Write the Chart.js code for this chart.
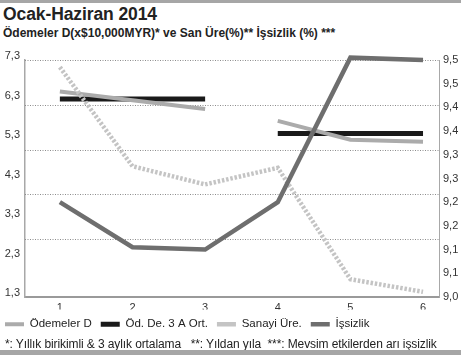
<!DOCTYPE html>
<html><head><meta charset="utf-8">
<script src="https://cdn.jsdelivr.net/npm/chart.js@4"></script>
<style>
html,body{margin:0;padding:0;background:#fff;}
body{width:461px;height:355px;position:relative;overflow:hidden;font-family:"Liberation Sans",Arial,sans-serif;color:#222;}
#topbar{position:absolute;left:0;top:0;width:461px;height:3px;background:#a6a6a6;}
#title{position:absolute;left:3px;top:4px;font-size:17.5px;font-weight:bold;color:#222;letter-spacing:-0.1px;white-space:nowrap;}
#subtitle{position:absolute;left:3px;top:26px;font-size:12px;font-weight:bold;color:#222;white-space:nowrap;}
#wrap{position:absolute;left:0;top:42px;width:461px;height:298px;}
#foot{position:absolute;left:5px;top:337px;font-size:12px;color:#222;white-space:pre;letter-spacing:-0.1px;}
#botbar{position:absolute;left:0;top:350px;width:461px;height:5px;background:#a6a6a6;}
</style></head>
<body>
<div id="topbar"></div>
<div id="title">Ocak-Haziran 2014</div>
<div id="subtitle">Ödemeler D(x$10,000MYR)* ve San Üre(%)** İşsizlik (%) ***</div>
<div id="wrap"><canvas id="c" width="461" height="298"></canvas></div>
<div id="foot">*: Yıllık birikimli &amp; 3 aylık ortalama   **: Yıldan yıla  ***: Mevsim etkilerden arı işsizlik</div>
<div id="botbar"></div>
<script>
const categories = ['1','2','3','4','5','6'];
const odemelerD = [6.50, 6.28, 6.06, 5.76, 5.28, 5.23];
const odDe3AOrt = [6.31, 6.31, 6.31, 5.44, 5.44, 5.44];
const sanayiUre = [7.12, 4.61, 4.15, 4.57, 1.75, 1.43];
const issizlik = [9.20, 9.105, 9.10, 9.20, 9.505, 9.50];
const leftTickValues = [7.3, 6.3, 5.3, 4.3, 3.3, 2.3, 1.3];
const leftTickLabels = ['7,3','6,3','5,3','4,3','3,3','2,3','1,3'];
const rightTickValues = [9.5, 9.45, 9.4, 9.35, 9.3, 9.25, 9.2, 9.15, 9.1, 9.05, 9.0];
const rightTickLabels = ['9,5','9,5','9,4','9,4','9,3','9,3','9,2','9,2','9,1','9,1','9,0'];
const seriesNames = ['Ödemeler D','Öd. De. 3 A Ort.','Sanayi Üre.','İşsizlik'];

const pts = arr => arr.map((v,i)=>({x: i+1, y: v}));
const gapAfter3 = ctx => ctx.p0DataIndex === 2 ? 'rgba(0,0,0,0)' : undefined;

const tickFont = {family: '"Liberation Sans", Arial, sans-serif', size: 11};

new Chart(document.getElementById('c'), {
  type: 'line',
  data: {
    datasets: [
      {label: seriesNames[0], data: pts(odemelerD), yAxisID: 'yL', borderColor: '#ababab', backgroundColor: '#ababab',
       borderWidth: 4, pointRadius: 0, pointStyle: 'line', order: 3, segment: {borderColor: gapAfter3}},
      {label: seriesNames[1], data: pts(odDe3AOrt), yAxisID: 'yL', borderColor: '#1a1a1a', backgroundColor: '#1a1a1a',
       borderWidth: 5, pointRadius: 0, pointStyle: 'line', order: 4, segment: {borderColor: gapAfter3}},
      {label: seriesNames[2], data: pts(sanayiUre), yAxisID: 'yL', borderColor: '#c4c4c4', backgroundColor: '#c4c4c4',
       borderWidth: 4.5, borderDash: [2.5, 1.8], pointRadius: 0, pointStyle: 'line', order: 2},
      {label: seriesNames[3], data: pts(issizlik), yAxisID: 'yR', borderColor: '#6e6e6e', backgroundColor: '#6e6e6e',
       borderWidth: 4.5, pointRadius: 0, pointStyle: 'line', order: 1}
    ]
  },
  options: {
    responsive: false,
    animation: false,
    clip: false,
    layout: {padding: {top: 18, left: 0, right: 0, bottom: 0}},
    elements: {line: {tension: 0, borderCapStyle: 'butt', borderJoinStyle: 'miter'}},
    plugins: {
      tooltip: {enabled: false},
      legend: {
        position: 'bottom', align: 'start',
        labels: {
          usePointStyle: true, pointStyleWidth: 19, boxHeight: 12,
          sort: (a, b) => a.datasetIndex - b.datasetIndex,
          font: {family: '"Liberation Sans", Arial, sans-serif', size: 11.5},
          color: '#222', padding: 9
        }
      }
    },
    scales: {
      x: {
        type: 'linear', min: 0.52, max: 6.22,
        afterBuildTicks: s => { s.ticks = categories.map((c,i)=>({value: i+1})); },
        ticks: {callback: (v,i) => categories[i], font: tickFont, color: '#333', padding: 4, maxRotation: 0, autoSkip: false},
        grid: {display: false, drawTicks: false},
        border: {color: '#9a9a9a', width: 2},
        afterFit: s => { s.height = 12.5; }
      },
      yL: {
        position: 'left', min: 1.3, max: 7.3,
        afterBuildTicks: s => { s.ticks = leftTickValues.map(v=>({value: v})); },
        ticks: {callback: (v,i) => leftTickLabels[i], font: tickFont, color: '#333', padding: 5, labelOffset: -4, autoSkip: false},
        grid: {display: false, drawTicks: false},
        border: {color: '#a8a8a8', width: 1.5},
        afterFit: s => { s.width = 25; }
      },
      yR: {
        position: 'right', min: 9.0, max: 9.5,
        afterBuildTicks: s => { s.ticks = rightTickValues.map(v=>({value: v})); },
        ticks: {callback: (v,i) => rightTickLabels[i], font: tickFont, color: '#333', padding: 4, autoSkip: false},
        grid: {display: false, drawTicks: false},
        border: {color: '#a8a8a8', width: 1},
        afterFit: s => { s.width = 22; }
      },
      yG: {
        position: 'right', min: 0, max: 238/45, reverse: true,
        afterBuildTicks: s => { s.ticks = [0,1,2,3,4].map(v=>({value: v})); },
        ticks: {display: false},
        grid: {display: false, drawTicks: false},
        border: {display: false},
        afterFit: s => { s.width = 0; }
      }
    }
  },
  plugins: [{
    id: 'dottedGrid',
    afterLayout(chart) { if (chart.legend) { chart.legend.left -= 4; } },
    beforeDatasetsDraw(chart) {
      const s = chart.scales.yG, a = chart.chartArea, ctx = chart.ctx;
      ctx.save();
      ctx.strokeStyle = '#8c8c8c'; ctx.lineWidth = 1; ctx.setLineDash([1,1.5]);
      s.ticks.forEach(t => {
        const y = Math.round(s.getPixelForValue(t.value)) + 0.5;
        ctx.beginPath(); ctx.moveTo(a.left, y); ctx.lineTo(a.right, y); ctx.stroke();
      });
      ctx.restore();
    }
  }]
});
</script>
</body></html>
